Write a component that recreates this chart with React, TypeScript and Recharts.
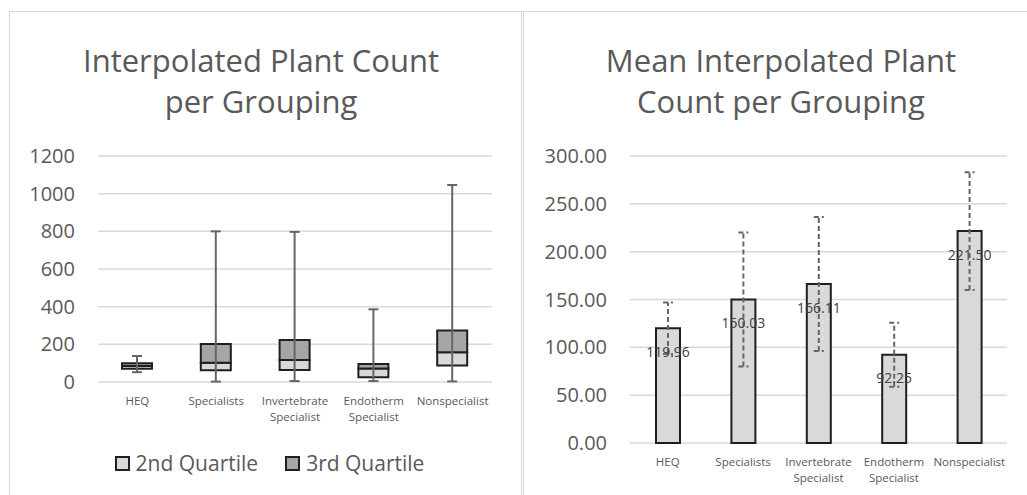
import React from "react";
import {
  Bar,
  CartesianGrid,
  ComposedChart,
  ErrorBar,
  LabelList,
  Legend,
  XAxis,
  YAxis,
} from "recharts";

// groupings shared by both panels
const groups = [
  "HEQ",
  "Specialists",
  "Invertebrate Specialist",
  "Endotherm Specialist",
  "Nonspecialist",
];

// box plot (left panel)
const minValues = [52, 2, 5, 5, 3];
const q1Values = [70, 62, 64, 25, 87];
const medianValues = [85, 102, 117, 72, 158];
const q3Values = [100, 202, 223, 96, 273];
const maxValues = [138, 800, 797, 386, 1046];
const countTicks = [0, 200, 400, 600, 800, 1000, 1200];

// means with error (right panel)
const meanValues = [119.96, 150.03, 166.11, 92.25, 221.5];
const meanErrors = [27, 70, 70, 33.5, 61.5];
const meanTicks = [0, 50, 100, 150, 200, 250, 300];

const boxData = groups.map((name, i) => ({
  name,
  base: q1Values[i],
  second: medianValues[i] - q1Values[i],
  third: q3Values[i] - medianValues[i],
  whisker: [q1Values[i] - minValues[i], maxValues[i] - q1Values[i]],
}));

const meanData = groups.map((name, i) => ({
  name,
  mean: meanValues[i],
  err: meanErrors[i],
}));

const GREY_TEXT = "#595959";
const GRID = "#d9d9d9";
const EDGE = "#1f1f1f";

function CategoryTick(props: any) {
  const { x, y, payload } = props;
  const words = String(payload.value).split(" ");
  return (
    <g>
      {words.map((w: string, i: number) => (
        <text
          key={i}
          x={x}
          y={y + 15 + i * 16}
          textAnchor="middle"
          fontSize={11.5}
          fill={GREY_TEXT}
        >
          {w}
        </text>
      ))}
    </g>
  );
}

function QuartileLegend(props: any) {
  const items = (props.payload || []).filter((p: any) => p.type !== "none");
  return (
    <div style={{ display: "flex", justifyContent: "center", gap: 27 }}>
      {items.map((p: any) => (
        <div key={p.value} style={{ display: "flex", alignItems: "center", gap: 6 }}>
          <span
            style={{
              display: "inline-block",
              width: 11,
              height: 11,
              background: p.color,
              border: `2px solid ${EDGE}`,
            }}
          />
          <span style={{ fontSize: 21, color: GREY_TEXT, lineHeight: "24px" }}>{p.value}</span>
        </div>
      ))}
    </div>
  );
}

function MeanLabel(props: any) {
  const { x, y, width, value } = props;
  return (
    <text
      x={x + width / 2}
      y={y + 23}
      textAnchor="middle"
      dominantBaseline="central"
      fontSize={14}
      fill="#404040"
    >
      {Number(value).toFixed(2)}
    </text>
  );
}

function Title({ lines, center }: { lines: string[]; center: number }) {
  return (
    <div
      style={{
        position: "absolute",
        left: center - 250,
        top: 40,
        width: 500,
        textAlign: "center",
        fontSize: 31,
        lineHeight: "41px",
        color: GREY_TEXT,
      }}
    >
      {lines.map((l) => (
        <div key={l}>{l}</div>
      ))}
    </div>
  );
}

export default function App() {
  return (
    <div
      style={{
        position: "absolute",
        left: 0,
        top: 0,
        width: 1027,
        height: 495,
        overflow: "hidden",
        background: "#fff",
        fontFamily: "'Open Sans', sans-serif",
      }}
    >
      <div
        style={{
          position: "absolute",
          left: 9,
          top: 11,
          width: 511,
          height: 520,
          border: `1px solid ${GRID}`,
        }}
      />
      <div
        style={{
          position: "absolute",
          left: 523,
          top: 11,
          width: 540,
          height: 520,
          border: `1px solid ${GRID}`,
        }}
      />

      <Title lines={["Interpolated Plant Count", "per Grouping"]} center={261} />
      <Title lines={["Mean Interpolated Plant", "Count per Grouping"]} center={781} />

      <div style={{ position: "absolute", left: 0, top: 0 }}>
        <ComposedChart
          width={521}
          height={495}
          data={boxData}
          margin={{ top: 156, right: 29, bottom: 73, left: 38 }}
        >
          <CartesianGrid vertical={false} stroke={GRID} strokeWidth={1.5} />
          <XAxis
            dataKey="name"
            axisLine={false}
            tickLine={false}
            height={40}
            interval={0}
            tick={<CategoryTick />}
          />
          <YAxis
            width={60}
            domain={[0, 1200]}
            ticks={countTicks}
            axisLine={false}
            tickLine={false}
            tickMargin={17}
            tick={{ fontSize: 20, fill: GREY_TEXT }}
          />
          <Bar
            dataKey="base"
            stackId="box"
            fill="transparent"
            legendType="none"
            barSize={30}
            isAnimationActive={false}
          >
            <ErrorBar dataKey="whisker" width={5} stroke="#666666" strokeWidth={2} />
          </Bar>
          <Bar
            dataKey="second"
            name="2nd Quartile"
            stackId="box"
            fill="#d9d9d9"
            stroke={EDGE}
            strokeWidth={2}
            barSize={30}
            isAnimationActive={false}
          />
          <Bar
            dataKey="third"
            name="3rd Quartile"
            stackId="box"
            fill="#a6a6a6"
            stroke={EDGE}
            strokeWidth={2}
            barSize={30}
            isAnimationActive={false}
          />
          <Legend
            layout="horizontal"
            verticalAlign="middle"
            align="center"
            content={<QuartileLegend />}
            wrapperStyle={{ left: 9, top: 451, width: 521 }}
          />
        </ComposedChart>
      </div>

      <div style={{ position: "absolute", left: 521, top: 0 }}>
        <ComposedChart
          width={506}
          height={495}
          data={meanData}
          margin={{ top: 156, right: 20, bottom: 12, left: 49 }}
        >
          <CartesianGrid vertical={false} stroke={GRID} strokeWidth={1.5} />
          <XAxis
            dataKey="name"
            axisLine={false}
            tickLine={false}
            height={40}
            interval={0}
            tick={<CategoryTick />}
          />
          <YAxis
            width={60}
            domain={[0, 300]}
            ticks={meanTicks}
            axisLine={false}
            tickLine={false}
            tickMargin={17}
            tickFormatter={(v: number) => v.toFixed(2)}
            tick={{ fontSize: 20, fill: GREY_TEXT }}
          />
          <Bar
            dataKey="mean"
            fill="#d9d9d9"
            stroke={EDGE}
            strokeWidth={2}
            barSize={24}
            isAnimationActive={false}
          >
            <LabelList dataKey="mean" content={<MeanLabel />} />
            <ErrorBar
              dataKey="err"
              width={5}
              stroke="#666666"
              strokeWidth={2}
              strokeDasharray="5 3"
            />
          </Bar>
        </ComposedChart>
      </div>
    </div>
  );
}
